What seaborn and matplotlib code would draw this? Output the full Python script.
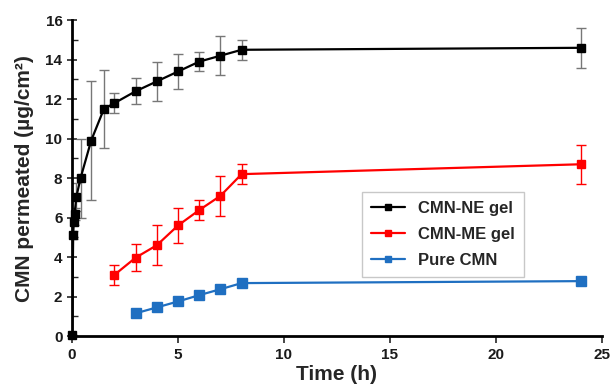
import numpy as np
import pandas as pd
import matplotlib
matplotlib.use("Agg")
import matplotlib.pyplot as plt
from matplotlib.ticker import MultipleLocator
from matplotlib.lines import Line2D
import seaborn as sns

# data
t_ne = [0, 0.05, 0.08, 0.12, 0.2, 0.4, 0.9, 1.5, 2, 3, 4, 5, 6, 7, 8, 24]
ne = [0.05, 5.1, 5.8, 6.2, 7.05, 8.0, 9.9, 11.5, 11.8, 12.4, 12.9, 13.4, 13.9, 14.2, 14.5, 14.6]
ne_err = [0, 0.2, 0.2, 0.3, 0.7, 2.0, 3.0, 2.0, 0.5, 0.65, 1.0, 0.9, 0.5, 1.0, 0.5, 1.0]

t_me = [2, 3, 4, 5, 6, 7, 8, 24]
me = [3.1, 3.97, 4.6, 5.6, 6.38, 7.1, 8.2, 8.7]
me_err = [0.5, 0.7, 1.0, 0.9, 0.5, 1.0, 0.5, 1.0]

t_pure = [3, 4, 5, 6, 7, 8, 24]
pure = [1.15, 1.45, 1.75, 2.07, 2.37, 2.68, 2.78]

labels = ["CMN-NE gel", "CMN-ME gel", "Pure CMN"]
colors = ["#000000", "#ff0000", "#1f6fc1"]

df = pd.concat([
    pd.DataFrame({"time": t_ne, "val": ne, "series": labels[0]}),
    pd.DataFrame({"time": t_me, "val": me, "series": labels[1]}),
    pd.DataFrame({"time": t_pure, "val": pure, "series": labels[2]}),
])

sns.set_theme(style="ticks")
plt.rcParams["font.family"] = ["Liberation Sans", "DejaVu Sans"]

fig = plt.figure(figsize=(6.11, 3.88), dpi=100)
ax = fig.add_axes([0.118, 0.134, 0.867, 0.814])

# error bars under the lines
ax.errorbar(t_ne, ne, yerr=ne_err, fmt="none", ecolor="#777777", elinewidth=1, capsize=3.5, capthick=1, zorder=1)
ax.errorbar(t_me, me, yerr=me_err, fmt="none", ecolor="#ff0000", elinewidth=1, capsize=3.5, capthick=1, zorder=1)

sns.lineplot(data=df, x="time", y="val", hue="series", palette=colors, hue_order=labels,
             sort=False, estimator=None, linewidth=1.6, legend=False, ax=ax, zorder=2)
for lab, c, ms in zip(labels, colors, [6.3, 6.3, 7.3]):
    sub = df[df.series == lab]
    ax.plot(sub.time, sub.val, ls="none", marker="s", ms=ms, color=c, zorder=3, clip_on=False)

ax.set_xlim(0, 25)
ax.set_ylim(0, 16)
ax.xaxis.set_major_locator(MultipleLocator(5))
ax.yaxis.set_major_locator(MultipleLocator(2))
ax.yaxis.set_minor_locator(MultipleLocator(1))
ax.tick_params(axis="y", which="major", direction="inout", length=7, width=1.2)
ax.tick_params(axis="y", which="minor", direction="in", length=4, width=1)
ax.tick_params(axis="x", which="major", direction="out", length=5, width=1.2)
for s in ["top", "right"]:
    ax.spines[s].set_visible(False)
for s in ["left", "bottom"]:
    ax.spines[s].set_linewidth(2)
    ax.spines[s].set_color("black")

for lbl in ax.get_xticklabels() + ax.get_yticklabels():
    lbl.set_fontweight("bold")
    lbl.set_fontsize(11)
    lbl.set_color("#1a1a1a")

ax.set_xlabel("Time (h)", fontsize=15, fontweight="bold", labelpad=2)
ax.set_ylabel("CMN permeated (µg/cm²)", fontsize=15, fontweight="bold", labelpad=8)

handles = [Line2D([0], [0], color=c, lw=1.6, marker="s", ms=5) for c in colors]
leg = ax.legend(handles, labels, loc="upper left", bbox_to_anchor=(0.532, 0.483),
                frameon=True, fancybox=False, edgecolor="#bbbbbb", handlelength=2.0,
                prop={"weight": "bold", "size": 12}, borderpad=0.55, labelspacing=0.65)
leg.get_frame().set_linewidth(1)

fig.savefig("out.png", dpi=100)
